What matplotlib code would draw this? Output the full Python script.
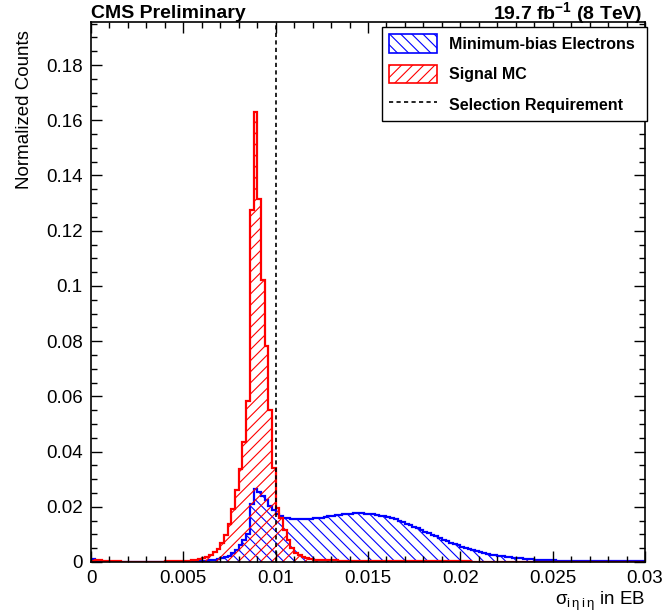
import numpy as np
import matplotlib
matplotlib.use("Agg")
import matplotlib.pyplot as plt
from matplotlib.patches import Patch
from matplotlib.lines import Line2D
from matplotlib.ticker import MultipleLocator, FuncFormatter

plt.rcParams['font.family'] = 'Liberation Sans'
plt.rcParams['mathtext.fontset'] = 'custom'
plt.rcParams['mathtext.rm'] = 'Liberation Sans'
plt.rcParams['mathtext.bf'] = 'Liberation Sans:bold'
plt.rcParams['mathtext.default'] = 'regular'
plt.rcParams['hatch.linewidth'] = 0.8

# 150 bins of 0.0002 between 0 and 0.03
x_min, x_max, n_bins = 0.0, 0.03, 150
cut_value = 0.01

# Signal MC, normalized counts per bin
signal_mc = [
    0.0003, 0.0006, 0.0006, 0.0005, 0.0004, 0.0003, 0.0002, 0.0002, 0.0001, 0.0001,
    0.0001, 0.0001, 0.0001, 0.0001, 0.0001, 0.0001, 0.0001, 0.0001, 0.0001, 0.0001,
    0.0002, 0.0002, 0.0002, 0.0003, 0.0003, 0.0004, 0.0005, 0.0006, 0.0008, 0.0010,
    0.0013, 0.0019, 0.0026, 0.0035, 0.0048, 0.0068, 0.0099, 0.0139, 0.0192, 0.0260,
    0.0336, 0.0435, 0.0583, 0.1275, 0.1630, 0.1315, 0.1020, 0.0784, 0.0549, 0.0339,
    0.0195, 0.0160, 0.0117, 0.0081, 0.0052, 0.0034, 0.0025, 0.0018, 0.0014, 0.0011,
    0.0009, 0.0008, 0.0008, 0.0007, 0.0007, 0.0006, 0.0006, 0.0005, 0.0005, 0.0005,
    0.0004, 0.0004, 0.0004, 0.0004, 0.0003, 0.0003, 0.0003, 0.0003, 0.0003, 0.0003,
    0.0003, 0.0002, 0.0002, 0.0002, 0.0002, 0.0002, 0.0002, 0.0002, 0.0002, 0.0002,
    0.0002, 0.0002, 0.0002, 0.0002, 0.0002, 0.0002, 0.0002, 0.0002, 0.0002, 0.0002,
    0.0002, 0.0002, 0.0002, 0.0001, 0.0001, 0.0001, 0.0001, 0.0001, 0.0001, 0.0001,
    0.0001, 0.0001, 0.0001, 0.0001, 0.0001, 0.0001, 0.0001, 0.0001, 0.0001, 0.0001,
    0.0001, 0.0001, 0.0001, 0.0001, 0.0001, 0.0001, 0.0001, 0.0001, 0.0001, 0.0001,
    0.0001, 0.0001, 0.0001, 0.0001, 0.0001, 0.0001, 0.0001, 0.0001, 0.0000, 0.0000,
    0.0000, 0.0000, 0.0000, 0.0000, 0.0000, 0.0000, 0.0000, 0.0000, 0.0000, 0.0000,
]

# Minimum-bias electrons, normalized counts per bin
minbias_electrons = [
    0.0010, 0.0000, 0.0000, 0.0000, 0.0000, 0.0000, 0.0000, 0.0000, 0.0000, 0.0000,
    0.0000, 0.0000, 0.0000, 0.0000, 0.0000, 0.0000, 0.0000, 0.0000, 0.0000, 0.0000,
    0.0000, 0.0000, 0.0000, 0.0000, 0.0000, 0.0001, 0.0001, 0.0002, 0.0002, 0.0003,
    0.0003, 0.0004, 0.0006, 0.0008, 0.0010, 0.0013, 0.0017, 0.0022, 0.0032, 0.0044,
    0.0060, 0.0080, 0.0101, 0.0210, 0.0265, 0.0253, 0.0238, 0.0223, 0.0204, 0.0190,
    0.0175, 0.0166, 0.0161, 0.0158, 0.0157, 0.0156, 0.0155, 0.0156, 0.0156, 0.0157,
    0.0158, 0.0159, 0.0161, 0.0163, 0.0165, 0.0167, 0.0169, 0.0171, 0.0173, 0.0174,
    0.0175, 0.0176, 0.0176, 0.0176, 0.0175, 0.0174, 0.0173, 0.0171, 0.0168, 0.0165,
    0.0162, 0.0158, 0.0154, 0.0149, 0.0144, 0.0139, 0.0134, 0.0128, 0.0122, 0.0116,
    0.0110, 0.0105, 0.0099, 0.0093, 0.0087, 0.0081, 0.0076, 0.0070, 0.0065, 0.0060,
    0.0056, 0.0052, 0.0048, 0.0044, 0.0040, 0.0036, 0.0033, 0.0030, 0.0027, 0.0024,
    0.0022, 0.0020, 0.0018, 0.0017, 0.0015, 0.0014, 0.0013, 0.0012, 0.0011, 0.0010,
    0.0009, 0.0008, 0.0007, 0.0007, 0.0006, 0.0006, 0.0005, 0.0005, 0.0004, 0.0004,
    0.0004, 0.0003, 0.0003, 0.0003, 0.0003, 0.0003, 0.0003, 0.0003, 0.0003, 0.0003,
    0.0002, 0.0002, 0.0002, 0.0002, 0.0002, 0.0002, 0.0002, 0.0002, 0.0002, 0.0002,
]

edges = np.linspace(x_min, x_max, n_bins + 1)

fig = plt.figure(figsize=(6.63, 6.16), dpi=100)
ax = fig.add_axes([91 / 663, 54 / 616, 554 / 663, 540 / 616])

ax.stairs(minbias_electrons, edges, fill=True, facecolor='none', edgecolor='blue',
          hatch='\\\\\\', linewidth=1.6)
ax.stairs(signal_mc, edges, fill=True, facecolor='none', edgecolor='red',
          hatch='///', linewidth=1.6)
ax.axvline(cut_value, color='black', linestyle=(0, (2.5, 2)), linewidth=1.2)

ax.set_xlim(x_min, x_max)
ax.set_ylim(0, 1.2 * max(signal_mc))

# ROOT-style ticks: inside, on all four sides
ax.xaxis.set_major_locator(MultipleLocator(0.005))
ax.xaxis.set_minor_locator(MultipleLocator(0.001))
ax.yaxis.set_major_locator(MultipleLocator(0.02))
ax.yaxis.set_minor_locator(MultipleLocator(0.005))
fmt = FuncFormatter(lambda v, pos: '%g' % round(v, 6))
ax.xaxis.set_major_formatter(fmt)
ax.yaxis.set_major_formatter(fmt)
ax.tick_params(which='both', direction='in', top=True, right=True, labelsize=13.5, width=1.0)
ax.tick_params(which='major', length=8, pad=6)
ax.tick_params(which='minor', length=4)
for s in ax.spines.values():
    s.set_linewidth(1.2)

ax.set_xlabel(r'$\sigma_{i\,\eta\,i\,\eta}$ in EB', fontsize=13.5, loc='right', labelpad=2)
ax.set_ylabel('Normalized Counts', fontsize=13.5, loc='top')
ax.yaxis.set_label_coords(-0.105, 1 - 8 / 540)

fig.text(91 / 663, 1 - 13 / 616, 'CMS Preliminary', fontsize=14, fontweight='bold',
         ha='left', va='center')
fig.text(642 / 663, 1 - 13 / 616, r'19.7 fb$^{\mathbf{-1}}$ (8 TeV)', fontsize=14,
         fontweight='bold', ha='right', va='center')

handles = [
    Patch(facecolor='none', edgecolor='blue', hatch='\\\\\\', linewidth=1.2),
    Patch(facecolor='none', edgecolor='red', hatch='///', linewidth=1.2),
    Line2D([], [], color='black', linestyle=(0, (2.5, 2)), linewidth=1.2),
]
labels = ['Minimum-bias Electrons', 'Signal MC', 'Selection Requirement']
leg = ax.legend(handles, labels, loc='upper left', mode='expand',
                bbox_to_anchor=(382 / 663, 1 - 121 / 616, 265 / 663, 94 / 616),
                bbox_transform=fig.transFigure, borderaxespad=0,
                prop={'weight': 'bold', 'size': 11.5}, fancybox=False,
                edgecolor='black', framealpha=1, handlelength=3.0, handleheight=1.4,
                labelspacing=0.75, borderpad=0.45, handletextpad=0.75)
leg.get_frame().set_linewidth(1.0)

fig.savefig('out.png', dpi=100)
